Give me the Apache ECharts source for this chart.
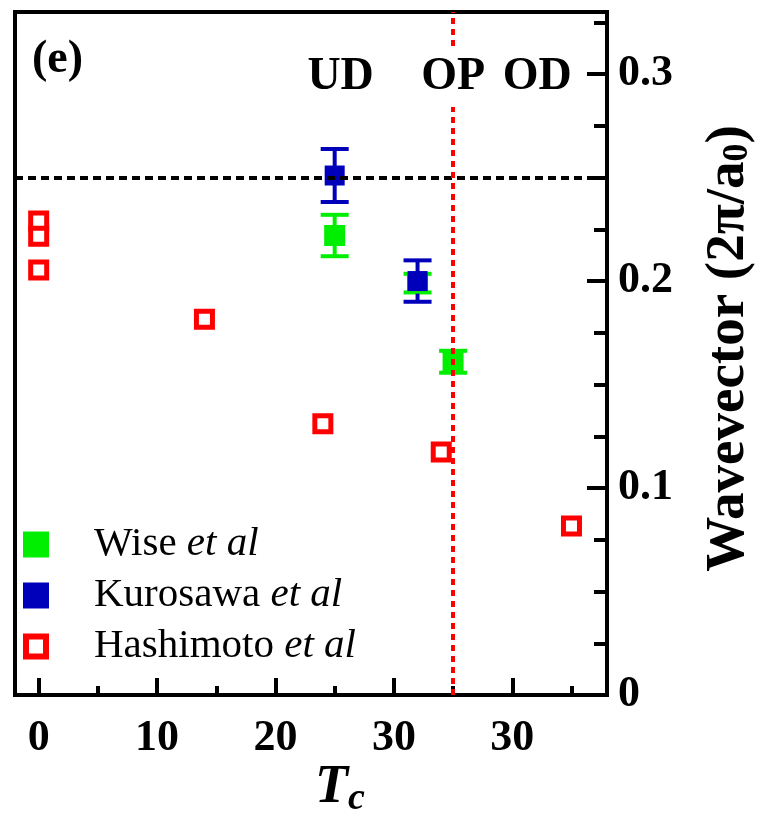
<!DOCTYPE html>
<html>
<head>
<meta charset="utf-8">
<script src="https://cdn.jsdelivr.net/npm/echarts@6/dist/echarts.min.js"></script>
<style>
  html, body { margin: 0; padding: 0; background: #fff; }
  #main { width: 758px; height: 822px; }
</style>
</head>
<body>
<div id="main"></div>
<script>
// Position along the doping axis: the underdoped side runs with Tc (K),
// the overdoped side is mirrored about optimal doping (position = 2*TC_OPT - Tc).
const TC_OPT = 35;

const xTickMajor = [0, 10, 20, 30, 40];
const xTickMinor = [5, 15, 25, 35, 45];
const yTickMajor = [0, 0.1, 0.2, 0.3];
const yTickMinor = [0.025, 0.05, 0.075, 0.125, 0.15, 0.175, 0.225, 0.25, 0.275, 0.325];

// Wise et al (STM, with error bars)
const wiseX = [25, 32, 35];
const wiseY = [0.222, 0.199, 0.161];
const wiseErr = [0.010, 0.0045, 0.0053];

// Kurosawa et al (STM, with error bars)
const kurosawaX = [25, 32];
const kurosawaY = [0.251, 0.200];
const kurosawaErr = [0.0128, 0.010];

// Hashimoto et al (ARPES)
const hashimotoX = [0, 0, 0, 14, 24, 34, 45];
const hashimotoY = [0.229, 0.2217, 0.2053, 0.1816, 0.131, 0.1174, 0.0816];

// Reference lines
const commensurateQ = 0.25;     // 4a0 period
const optimalPosition = TC_OPT; // optimal doping

const phaseLabels = [
  { text: 'UD', pos: 25.5 },
  { text: 'OP', pos: TC_OPT },
  { text: 'OD', pos: 42.1 }
];

const SERIF = '"Liberation Serif", "DejaVu Serif", serif';
const GREEN = '#00ee00';
const BLUE = '#0000bb';
const RED = '#ff0000';

const X_MIN = -2, X_MAX = 48, Y_MIN = 0, Y_MAX = 0.33;
const gridBox = { left: 15, top: 12, right: 151, bottom: 127 };

// hollow square used as the legend key of the open-square series
const HOLLOW_SQUARE = 'path://M0,0H26V26H0Z M6,6V20H20V6Z';

function errorBars(name, xs, ys, errs, color, z) {
  return {
    type: 'custom',
    name: name,
    xAxisIndex: 0,
    yAxisIndex: 0,
    z: z,
    silent: true,
    data: xs.map((x, i) => [x, ys[i] - errs[i], ys[i] + errs[i]]),
    renderItem: function (params, api) {
      const lo = api.coord([api.value(0), api.value(1)]);
      const hi = api.coord([api.value(0), api.value(2)]);
      const hw = 14;
      const style = { stroke: color, lineWidth: 4, fill: null };
      return {
        type: 'group',
        children: [
          { type: 'line', shape: { x1: lo[0], y1: lo[1], x2: hi[0], y2: hi[1] }, style: style },
          { type: 'line', shape: { x1: lo[0] - hw, y1: lo[1], x2: lo[0] + hw, y2: lo[1] }, style: style },
          { type: 'line', shape: { x1: hi[0] - hw, y1: hi[1], x2: hi[0] + hw, y2: hi[1] }, style: style }
        ]
      };
    }
  };
}

const chart = echarts.init(document.getElementById('main'), null, { renderer: 'canvas' });

const axisLineStyle = { color: '#000', width: 4 };

const option = {
  backgroundColor: '#fff',
  animation: false,
  grid: [
    Object.assign({ show: true, borderColor: '#000', borderWidth: 4, backgroundColor: 'transparent',
      containLabel: false, outerBoundsMode: 'none' }, gridBox),
    Object.assign({ show: false, containLabel: false, outerBoundsMode: 'none' }, gridBox)
  ],
  xAxis: [
    {
      type: 'value', gridIndex: 0, min: X_MIN, max: X_MAX, position: 'bottom',
      axisLine: { show: true, onZero: false, lineStyle: axisLineStyle },
      axisTick: { show: true, inside: true, length: 17, customValues: xTickMajor,
        lineStyle: { color: '#000', width: 4 } },
      axisLabel: {
        customValues: xTickMajor,
        formatter: v => String(v <= TC_OPT ? v : 2 * TC_OPT - v),
        fontFamily: SERIF, fontWeight: 'bold', fontSize: 44, color: '#000', margin: 22
      },
      splitLine: { show: false }
    },
    {
      type: 'value', gridIndex: 1, min: X_MIN, max: X_MAX, position: 'bottom',
      axisLine: { show: false, onZero: false },
      axisTick: { show: true, inside: true, length: 9, customValues: xTickMinor,
        lineStyle: { color: '#000', width: 4 } },
      axisLabel: { show: false },
      splitLine: { show: false }
    }
  ],
  yAxis: [
    {
      type: 'value', gridIndex: 0, min: Y_MIN, max: Y_MAX, position: 'right',
      axisLine: { show: true, onZero: false, lineStyle: axisLineStyle },
      axisTick: { show: true, inside: true, length: 20, customValues: yTickMajor,
        lineStyle: { color: '#000', width: 4 } },
      axisLabel: {
        customValues: yTickMajor,
        formatter: v => (v === 0 ? '0' : v.toFixed(1)),
        fontFamily: SERIF, fontWeight: 'bold', fontSize: 44, color: '#000', margin: 11
      },
      splitLine: { show: false },
      name: 'Wavevector (2\u03C0/a{sub|0})',
      nameLocation: 'middle',
      nameRotate: 90,
      nameGap: 94,
      nameTextStyle: {
        fontFamily: SERIF, fontWeight: 'bold', fontSize: 55, color: '#000',
        padding: [0, 0, 0, 10],
        rich: {
          sub: { fontFamily: SERIF, fontWeight: 'bold', fontSize: 36, color: '#000',
            verticalAlign: 'bottom', padding: [14, 0, 0, 0] }
        }
      }
    },
    {
      type: 'value', gridIndex: 1, min: Y_MIN, max: Y_MAX, position: 'right',
      axisLine: { show: false, onZero: false },
      axisTick: { show: true, inside: true, length: 13, customValues: yTickMinor,
        lineStyle: { color: '#000', width: 4 } },
      axisLabel: { show: false },
      splitLine: { show: false }
    }
  ],
  legend: {
    orient: 'vertical',
    left: 23,
    top: 524,
    padding: 0,
    itemWidth: 26,
    itemHeight: 26,
    itemGap: 10,
    selectedMode: false,
    data: [
      { name: 'Wise et al', icon: 'rect', itemStyle: { color: GREEN, borderWidth: 0 } },
      { name: 'Kurosawa et al', icon: 'rect', itemStyle: { color: BLUE, borderWidth: 0 } },
      { name: 'Hashimoto et al', icon: HOLLOW_SQUARE, itemStyle: { color: RED, borderWidth: 0 } }
    ],
    formatter: function (name) {
      const base = name.replace(' et al', '');
      return '{n|' + base + ' }{i|et al}';
    },
    textStyle: {
      padding: [0, 0, 0, 40],
      rich: {
        n: { fontFamily: SERIF, fontSize: 41, color: '#000', lineHeight: 42 },
        i: { fontFamily: SERIF, fontSize: 41, fontStyle: 'italic', color: '#000', lineHeight: 42 }
      }
    }
  },
  series: [
    {
      // commensurate wavevector reference (drawn beneath the data)
      type: 'line', name: 'q = 0.25', xAxisIndex: 0, yAxisIndex: 0, data: [], z: 1,
      silent: true,
      markLine: {
        silent: true, symbol: 'none', label: { show: false },
        lineStyle: { color: '#000', width: 4, type: [8, 5] },
        data: [{ yAxis: commensurateQ }]
      }
    },
    errorBars('Wise err', wiseX, wiseY, wiseErr, GREEN, 3),
    {
      type: 'scatter', name: 'Wise et al', xAxisIndex: 0, yAxisIndex: 0, z: 3,
      symbol: 'rect', symbolSize: 21,
      itemStyle: { color: GREEN, opacity: 1 },
      data: wiseX.map((x, i) => [x, wiseY[i]])
    },
    errorBars('Kurosawa err', kurosawaX, kurosawaY, kurosawaErr, BLUE, 3),
    {
      type: 'scatter', name: 'Kurosawa et al', xAxisIndex: 0, yAxisIndex: 0, z: 3,
      symbol: 'rect', symbolSize: 20,
      itemStyle: { color: BLUE, opacity: 1 },
      data: kurosawaX.map((x, i) => [x, kurosawaY[i]])
    },
    {
      type: 'scatter', name: 'Hashimoto et al', xAxisIndex: 0, yAxisIndex: 0, z: 3,
      symbol: 'rect', symbolSize: 16,
      itemStyle: { color: '#fff', borderColor: RED, borderWidth: 5, opacity: 1 },
      data: hashimotoX.map((x, i) => [x, hashimotoY[i]])
    },
    {
      // optimal-doping marker (drawn over the data)
      type: 'line', name: 'optimal doping', xAxisIndex: 0, yAxisIndex: 0, data: [], z: 5,
      silent: true,
      markLine: {
        silent: true, symbol: 'none', label: { show: false },
        lineStyle: { color: RED, width: 4, type: [6, 5] },
        data: [{ xAxis: optimalPosition }]
      }
    }
  ]
};

chart.setOption(option);

// Annotations placed through the axis scales
const labelY = chart.convertToPixel({ gridIndex: 0 }, [0, 0.3])[1];
const graphics = phaseLabels.map(p => {
  const px = chart.convertToPixel({ gridIndex: 0 }, [p.pos, 0.3])[0];
  return {
    type: 'text', x: px, y: labelY + 3, z: 100,
    style: {
      text: p.text,
      font: 'bold 46px ' + SERIF,
      fill: '#000',
      align: 'center',
      verticalAlign: 'middle',
      backgroundColor: p.text === 'OP' ? '#fff' : 'transparent',
      padding: [8, 2, 6, 2]
    }
  };
});
graphics.push({
  type: 'text', x: 32, y: 60, z: 100,
  style: { text: '(e)', font: 'bold 46px ' + SERIF, fill: '#000', align: 'left', verticalAlign: 'middle' }
});
graphics.push({
  type: 'text', x: 340, y: 788, z: 100,
  style: {
    text: '{t|T}{c|c}',
    align: 'center',
    verticalAlign: 'middle',
    rich: {
      t: { font: 'italic bold 54px ' + SERIF, fill: '#000' },
      c: { font: 'italic bold 38px ' + SERIF, fill: '#000', padding: [22, 0, 0, 0], verticalAlign: 'bottom' }
    }
  }
});
chart.setOption({ graphic: graphics });
</script>
</body>
</html>
